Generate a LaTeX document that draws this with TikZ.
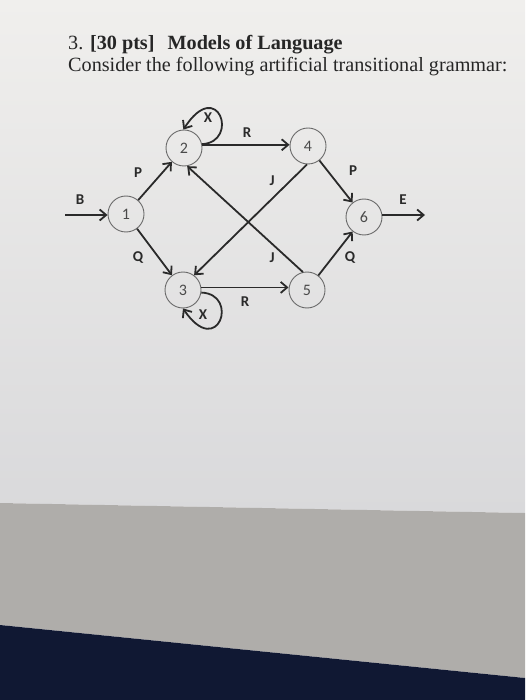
\documentclass[tikz,border=0pt]{standalone}
\usepackage{fontspec}
\setmainfont{Liberation Serif}
\newfontfamily\lblfont{Carlito}
\usetikzlibrary{arrows.meta}
\definecolor{paperA}{HTML}{F0EFED}
\definecolor{paperB}{HTML}{D9D9DB}
\definecolor{counter}{HTML}{AFADAA}
\definecolor{navy}{HTML}{101833}
\definecolor{ink}{HTML}{2A2A2A}
\definecolor{circ}{HTML}{6A6A6A}
\tikzset{
  state/.style={circle, draw=circ, line width=0.9pt, minimum size=36pt, inner sep=0pt,
    font=\lblfont\fontsize{16}{16}\selectfont, text=ink!85},
  arr/.style={draw=ink, line width=1.8pt, -{Straight Barb[length=6.5pt,width=11pt]}},
  lbl/.style={font=\lblfont\bfseries\fontsize{15}{15}\selectfont, text=ink, inner sep=0pt},
  txt/.style={anchor=base west, inner sep=0pt, text=black!85, font=\fontsize{20.2}{24}\selectfont}
}
\begin{document}
\begin{tikzpicture}[x=1pt,y=-1pt]
\useasboundingbox (0,0) rectangle (525,700);
% background: paper, countertop, dark cloth
\shade[top color=paperA, bottom color=paperB] (0,0) -- (525,0) -- (525,513) -- (0,503) -- cycle;
\fill[counter] (0,503) -- (525,513) -- (525,678) -- (0,625) -- cycle;
\fill[navy] (0,625) -- (525,678) -- (525,700) -- (0,700) -- cycle;

% text
\node[txt] (t1) at (68,50) {3. \textbf{[30 pts]}\hspace{13pt}\textbf{Models of Language}};
\node[txt] (t2) at (68,72) {Consider the following artificial transitional grammar:};

% states
\node[state] (n1) at (126,214) {1};
\node[state] (n2) at (184,148) {2};
\node[state] (n4) at (308,146) {4};
\node[state] (n6) at (364,217) {6};
\node[state] (n3) at (183,290) {3};
\node[state] (n5) at (307,290) {5};

% free ends
\coordinate (bin) at (65,215);
\coordinate (eout) at (425,215);

% connectors
\draw[arr] (bin) -- (n1.west |- bin);
\draw[arr] (n6.east |- eout) -- (eout);
\draw[arr] (n1) -- (n2);
\draw[arr] (n1) -- (n3);
\draw[arr] (n2.10) -- (n2.10 -| n4.west);
\draw[arr] (n3.8) -- (n3.8 -| n5.west);
\draw[arr] (n4) -- (n6);
\draw[arr] (n5) -- (n6);
\draw[arr] (n4.-93) -- (n3.53);
\draw[arr] (n5.103) -- (n2.-80);
\draw[arr] (n2.12) .. controls (240,142) and (218,76) .. (n2.92);
\draw[arr] (n3.-8) .. controls (240,294) and (218,360) .. (n3.-90);

% labels
\node[lbl] (lB) at (80,200) {B};
\node[lbl] (lP1) at (138,173) {P};
\node[lbl] (lX1) at (208,118) {X};
\node[lbl] (lR1) at (247,133) {R};
\node[lbl] (lJ1) at (272,181) {J};
\node[lbl] (lP2) at (353,171) {P};
\node[lbl] (lE) at (403,200) {E};
\node[lbl] (lQ1) at (138,258) {Q};
\node[lbl] (lJ2) at (272,258) {J};
\node[lbl] (lQ2) at (350,258) {Q};
\node[lbl] (lR2) at (245,302) {R};
\node[lbl] (lX2) at (203,315) {X};
\end{tikzpicture}
\end{document}
